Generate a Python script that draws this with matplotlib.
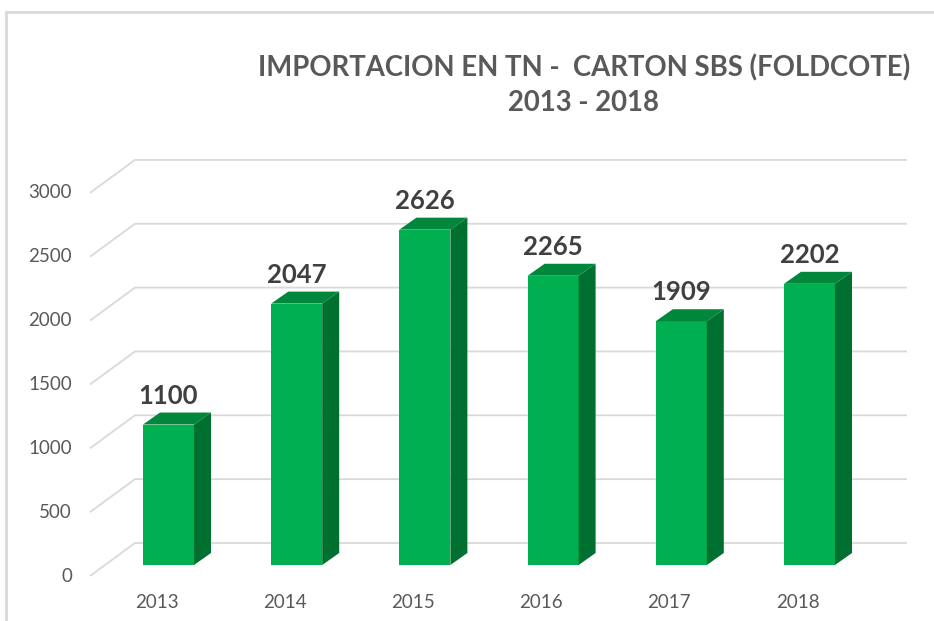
import matplotlib.pyplot as plt
from matplotlib.patches import Polygon
from matplotlib.lines import Line2D

years = ["2013", "2014", "2015", "2016", "2017", "2018"]
tons = [1100, 2047, 2626, 2265, 1909, 2202]
yticks = [0, 500, 1000, 1500, 2000, 2500, 3000]

plt.rcParams['font.family'] = ['Lato', 'DejaVu Sans']

W, H = 934, 621
fig = plt.figure(figsize=(W / 100, H / 100), dpi=100)
ax = fig.add_axes([0, 0, 1, 1])

# pixel layout of the fake 3d chart
x0_px, step_px = 168.5, 128.2      # first bar centre, spacing
base_px, ppu = 565, 0.1277         # bar baseline (from top), px per ton
ax.set_xlim(-x0_px / step_px, (W - x0_px) / step_px)
ax.set_ylim((base_px - H) / ppu, base_px / ppu)
ax.axis('off')

def dx(px):
    return px / step_px

def dy(px):
    return px / ppu

front = "#00B050"
side = "#007030"
top = "#00873C"
grid = "#D9D9D9"
grey = "#595959"

# gridlines: front edge -> back wall -> right
for v in yticks:
    xs = [dx(90 - x0_px), dx(135 - x0_px), dx(907 - x0_px)]
    ys = [v - dy(11), v + dy(22), v + dy(22)]
    ax.plot(xs, ys, color=grid, lw=1.3, zorder=1, solid_capstyle='butt')
    ax.text(dx(72 - x0_px), v - dy(11), str(v), ha='right', va='center',
            fontsize=13.5, color=grey)

bw = dx(51)
ddx, ddy = dx(17), dy(12)
for i, v in enumerate(tons):
    l, r = i - bw / 2, i + bw / 2
    ax.bar(i, v, width=bw, color=front, zorder=3)
    ax.add_patch(Polygon([(r, 0), (r + ddx, ddy), (r + ddx, v + ddy), (r, v)],
                         closed=True, color=side, zorder=3, lw=0))
    ax.add_patch(Polygon([(l, v), (l + ddx, v + ddy), (r + ddx, v + ddy), (r, v)],
                         closed=True, color=top, zorder=3, lw=0))
    ax.text(i, v + dy(17), str(v), ha='center', va='bottom', fontsize=18.5,
            fontweight='bold', color="#404040", zorder=4)
    ax.text(i - dx(12), dy(-37), years[i], ha='center', va='center',
            fontsize=13.5, color=grey)

# chart border
fig.add_artist(Line2D([6 / W, 6 / W], [0, 1 - 12 / H], color=grid, lw=2))
fig.add_artist(Line2D([6 / W, 1], [1 - 12 / H, 1 - 12 / H], color=grid, lw=2))

fig.text(584.5 / W, 1 - 68 / H, "IMPORTACION EN TN -  CARTON SBS (FOLDCOTE)",
         ha='center', va='center', fontsize=19.8, fontweight='bold', color=grey)
fig.text(583 / W, 1 - 103 / H, "2013 - 2018", ha='center', va='center',
         fontsize=19.8, fontweight='bold', color=grey)

fig.savefig("out.png", dpi=100)
